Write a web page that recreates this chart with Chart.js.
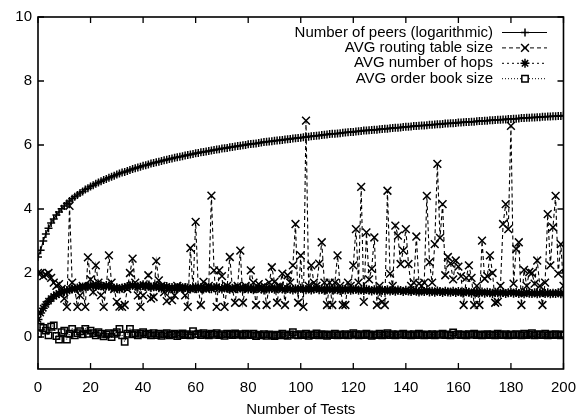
<!DOCTYPE html>
<html>
<head>
<meta charset="utf-8">
<script src="https://cdn.jsdelivr.net/npm/chart.js@4/dist/chart.umd.min.js"></script>
<style>
  html, body { margin: 0; padding: 0; background: #fff; }
</style>
</head>
<body>
<canvas id="chart" width="586" height="417"></canvas>
<script>
// Data (one value per test, 0..200)
const tests = Array.from({ length: 201 }, (_, i) => i);

const peers = [
  2.5, 2.71, 3.0, 3.22, 3.4, 3.56, 3.69, 3.81, 3.91, 4.01, 4.09, 4.17, 4.25, 4.32, 4.38, 4.44, 4.5, 4.55, 4.61, 4.65, 4.7,
  4.74, 4.79, 4.83, 4.87, 4.91, 4.94, 4.98, 5.01, 5.04, 5.08, 5.11, 5.14, 5.16, 5.19, 5.22, 5.25, 5.27, 5.3, 5.32, 5.35,
  5.37, 5.39, 5.42, 5.44, 5.46, 5.48, 5.5, 5.52, 5.54, 5.56, 5.58, 5.6, 5.62, 5.63, 5.65, 5.67, 5.69, 5.7, 5.72, 5.74,
  5.75, 5.77, 5.78, 5.8, 5.81, 5.83, 5.84, 5.86, 5.87, 5.89, 5.9, 5.91, 5.93, 5.94, 5.95, 5.97, 5.98, 5.99, 6.0, 6.02,
  6.03, 6.04, 6.05, 6.06, 6.08, 6.09, 6.1, 6.11, 6.12, 6.13, 6.14, 6.15, 6.16, 6.17, 6.18, 6.19, 6.2, 6.21, 6.22, 6.23,
  6.24, 6.25, 6.26, 6.27, 6.28, 6.29, 6.3, 6.31, 6.32, 6.33, 6.34, 6.35, 6.35, 6.36, 6.37, 6.38, 6.39, 6.4, 6.41, 6.41,
  6.42, 6.43, 6.44, 6.45, 6.45, 6.46, 6.47, 6.48, 6.48, 6.49, 6.5, 6.51, 6.51, 6.52, 6.53, 6.54, 6.54, 6.55, 6.56, 6.57,
  6.57, 6.58, 6.59, 6.59, 6.6, 6.61, 6.61, 6.62, 6.63, 6.63, 6.64, 6.65, 6.65, 6.66, 6.67, 6.67, 6.68, 6.68, 6.69, 6.7,
  6.7, 6.71, 6.72, 6.72, 6.73, 6.73, 6.74, 6.75, 6.75, 6.76, 6.76, 6.77, 6.77, 6.78, 6.79, 6.79, 6.8, 6.8, 6.81, 6.81,
  6.82, 6.82, 6.83, 6.84, 6.84, 6.85, 6.85, 6.86, 6.86, 6.87, 6.87, 6.88, 6.88, 6.89, 6.89, 6.9, 6.9, 6.91, 6.91, 6.92
];

const routing = [
  2.0, 2.0, 1.9, 1.95, 2.0, 1.85, 1.7, 1.6, 1.65, 1.5, 1.2, 0.94, 4.1, 1.7, 1.5, 0.94, 1.3, 1.6, 0.94, 2.49, 1.8,
  1.4, 2.24, 1.7, 1.3, 0.94, 1.6, 2.55, 1.7, 1.5, 1.1, 0.95, 0.94, 1.0, 1.5, 2.0, 2.45, 1.7, 1.3, 0.94, 1.3,
  1.6, 1.93, 1.2, 1.25, 2.37, 1.77, 1.6, 1.4, 1.12, 1.5, 1.15, 1.3, 1.6, 1.5, 1.55, 1.3, 0.94, 2.78, 1.5, 3.6,
  1.5, 1.0, 1.72, 1.5, 1.6, 4.42, 2.08, 0.94, 2.08, 1.9, 0.94, 1.6, 2.5, 1.5, 1.07, 1.6, 2.7, 1.07, 1.6, 1.5,
  2.08, 1.7, 1.0, 1.65, 1.55, 1.6, 1.0, 1.7, 2.18, 1.72, 1.07, 1.6, 1.98, 1.0, 1.93, 1.7, 2.24, 3.53, 1.07, 2.55,
  0.94, 6.76, 1.6, 2.24, 1.7, 1.6, 2.29, 2.96, 1.7, 1.0, 1.7, 1.0, 1.7, 2.55, 1.6, 1.0, 1.0, 1.7, 1.6, 2.24,
  3.37, 1.7, 4.69, 1.1, 3.27, 1.8, 2.13, 3.11, 1.0, 1.6, 1.1, 1.0, 4.57, 1.98, 1.6, 3.48, 3.17, 2.28, 2.7, 3.37,
  2.28, 1.6, 1.7, 3.14, 1.67, 1.6, 1.7, 4.41, 2.34, 1.7, 2.9, 5.41, 3.1, 4.15, 1.93, 2.5, 2.3, 1.8, 2.39, 2.2,
  1.9, 1.0, 1.85, 2.24, 1.85, 1.0, 1.6, 1.0, 3.01, 1.82, 1.9, 2.55, 2.0, 1.07, 1.1, 1.6, 3.53, 4.15, 3.37, 6.6,
  1.67, 2.75, 2.96, 1.0, 2.1, 1.6, 2.03, 2.0, 1.67, 2.39, 1.6, 1.0, 1.7, 3.84, 2.24, 3.43, 4.41, 1.98, 2.9, 1.6
];

const hops = [
  0.55, 0.75, 0.9, 1.02, 1.12, 1.2, 1.27, 1.32, 1.36, 1.4, 1.43, 1.45, 1.48, 1.5, 1.52, 1.53, 1.55, 1.56, 1.57, 1.58, 1.6,
  1.62, 1.58, 1.63, 1.6, 1.57, 1.61, 1.59, 1.55, 1.52, 1.54, 1.5, 1.53, 1.55, 1.58, 1.6, 1.62, 1.59, 1.56, 1.6, 1.63,
  1.58, 1.6, 1.55, 1.57, 1.6, 1.54, 1.52, 1.56, 1.58, 1.53, 1.55, 1.5, 1.54, 1.57, 1.52, 1.55, 1.53, 1.5, 1.54, 1.56,
  1.52, 1.55, 1.5, 1.53, 1.56, 1.51, 1.54, 1.57, 1.52, 1.5, 1.55, 1.53, 1.49, 1.52, 1.55, 1.51, 1.54, 1.5, 1.53, 1.5,
  1.52, 1.48, 1.51, 1.54, 1.5, 1.47, 1.52, 1.5, 1.53, 1.49, 1.51, 1.54, 1.5, 1.48, 1.52, 1.5, 1.47, 1.51, 1.49, 1.52,
  1.5, 1.48, 1.51, 1.47, 1.5, 1.52, 1.48, 1.5, 1.46, 1.49, 1.51, 1.47, 1.5, 1.48, 1.45, 1.49, 1.47, 1.5, 1.46, 1.48,
  1.5, 1.46, 1.48, 1.45, 1.49, 1.47, 1.44, 1.48, 1.46, 1.43, 1.47, 1.45, 1.48, 1.44, 1.46, 1.43, 1.47, 1.45, 1.42, 1.46,
  1.44, 1.42, 1.45, 1.43, 1.41, 1.44, 1.42, 1.45, 1.41, 1.43, 1.4, 1.44, 1.42, 1.39, 1.43, 1.41, 1.4, 1.43, 1.39, 1.42,
  1.4, 1.38, 1.42, 1.4, 1.37, 1.41, 1.39, 1.38, 1.41, 1.37, 1.4, 1.38, 1.36, 1.4, 1.38, 1.37, 1.39, 1.36, 1.38, 1.4,
  1.37, 1.39, 1.36, 1.38, 1.35, 1.39, 1.37, 1.36, 1.38, 1.35, 1.37, 1.39, 1.36, 1.38, 1.35, 1.37, 1.36, 1.38, 1.35, 1.37, 1.36
];

const orderBook = [
  0.1, 0.32, 0.28, 0.2, 0.05, 0.32, 0.36, 0.03, -0.08, 0.15, 0.2, -0.08, 0.1, 0.25, 0.05, 0.12, 0.18, 0.08, 0.25, 0.1, 0.2,
  0.12, 0.05, 0.15, 0.1, 0.02, 0.08, 0.12, 0.0, 0.1, 0.15, 0.25, 0.05, -0.15, 0.1, 0.25, 0.08, 0.12, 0.05, 0.1, 0.15,
  0.08, 0.1, 0.05, 0.12, 0.06, 0.1, 0.04, 0.09, 0.12, 0.05, 0.08, 0.1, 0.03, 0.07, 0.11, 0.06, 0.09, 0.05, 0.18, 0.08,
  0.1, 0.06, 0.12, 0.08, 0.05, 0.1, 0.07, 0.12, 0.06, 0.09, 0.04, 0.1, 0.08, 0.06, 0.11, 0.07, 0.09, 0.05, 0.1, 0.08,
  0.06, 0.1, 0.03, 0.07, 0.05, 0.09, 0.04, 0.08, 0.06, 0.03, 0.07, 0.05, 0.1, 0.06, 0.04, 0.08, 0.15, 0.07, 0.05, 0.09,
  0.06, 0.1, 0.04, 0.08, 0.06, 0.11, 0.05, 0.09, 0.07, 0.04, 0.08, 0.06, 0.1, 0.05, 0.08, 0.06, 0.09, 0.05, 0.07, 0.12,
  0.08, 0.05, 0.09, 0.06, 0.1, 0.07, 0.04, 0.08, 0.06, 0.1, 0.05, 0.08, 0.12, 0.06, 0.09, 0.05, 0.08, 0.07, 0.1, 0.06,
  0.08, 0.05, 0.09, 0.06, 0.1, 0.07, 0.05, 0.08, 0.06, 0.09, 0.05, 0.08, 0.07, 0.1, 0.06, 0.08, 0.05, 0.14, 0.07, 0.09,
  0.06, 0.08, 0.05, 0.09, 0.07, 0.1, 0.06, 0.08, 0.05, 0.07, 0.09, 0.06, 0.08, 0.05, 0.1, 0.07, 0.06, 0.09, 0.05, 0.08,
  0.06, 0.09, 0.07, 0.05, 0.1, 0.06, 0.08, 0.12, 0.05, 0.09, 0.07, 0.06, 0.1, 0.05, 0.08, 0.06, 0.09, 0.07, 0.05, 0.08, 0.06
];

const yTicks = [0, 2, 4, 6, 8, 10];
const seriesNames = [
  'Number of peers (logarithmic)',
  'AVG routing table size',
  'AVG number of hops',
  'AVG order book size'
];

const toPoints = arr => arr.map((v, i) => ({ x: tests[i], y: v }));

Chart.defaults.font.family = '"Liberation Sans", Arial, Helvetica, sans-serif';
Chart.defaults.font.size = 15;
Chart.defaults.color = '#000';

const INK = '#000';

// gnuplot style frame with inward ticks on all four sides
const framePlugin = {
  id: 'frame',
  afterDatasetsDraw(chart) {
    const { ctx, chartArea: a, scales } = chart;
    ctx.save();
    ctx.strokeStyle = INK;
    ctx.lineWidth = 1.6;
    ctx.strokeRect(a.left, a.top, a.right - a.left, a.bottom - a.top);
    ctx.lineWidth = 1.3;
    ctx.beginPath();
    const len = 6;
    scales.x.ticks.forEach(t => {
      const px = scales.x.getPixelForValue(t.value);
      ctx.moveTo(px, a.bottom); ctx.lineTo(px, a.bottom - len);
      ctx.moveTo(px, a.top); ctx.lineTo(px, a.top + len);
    });
    yTicks.forEach(v => {
      const py = scales.y.getPixelForValue(v);
      ctx.moveTo(a.left, py); ctx.lineTo(a.left + len, py);
      ctx.moveTo(a.right, py); ctx.lineTo(a.right - len, py);
    });
    ctx.stroke();
    ctx.restore();
  }
};

// key in the top right: text right aligned, then a line sample with its marker
const keyPlugin = {
  id: 'key',
  afterDraw(chart) {
    const { ctx } = chart;
    ctx.save();
    ctx.font = '15px "Liberation Sans", Arial, sans-serif';
    ctx.textAlign = 'right';
    ctx.textBaseline = 'middle';
    chart.data.datasets.forEach((ds, i) => {
      const y = 32.5 + i * 15.4;
      ctx.fillStyle = INK;
      ctx.fillText(ds.label, 493, y);
      ctx.strokeStyle = INK;
      ctx.lineWidth = 1;
      ctx.setLineDash(ds.borderDash || []);
      ctx.beginPath();
      ctx.moveTo(502, y); ctx.lineTo(547, y);
      ctx.stroke();
      ctx.setLineDash([]);
      ctx.fillStyle = ds.pointStyle === 'rect' ? '#fff' : INK;
      ctx.lineWidth = ds.pointBorderWidth;
      Chart.helpers.drawPoint(ctx, {
        pointStyle: ds.pointStyle,
        radius: ds.pointRadius,
        borderWidth: ds.pointBorderWidth
      }, 525, y);
    });
    ctx.restore();
  }
};

const common = {
  borderColor: INK,
  pointBorderColor: INK,
  borderWidth: 1.1,
  pointBorderWidth: 1.5,
  tension: 0,
  fill: false
};

new Chart(document.getElementById('chart'), {
  type: 'line',
  data: {
    datasets: [
      Object.assign({}, common, {
        label: seriesNames[0], data: toPoints(peers),
        pointStyle: 'cross', pointRadius: 4, pointBackgroundColor: INK
      }),
      Object.assign({}, common, {
        label: seriesNames[1], data: toPoints(routing),
        borderDash: [4, 3], pointStyle: 'crossRot', pointRadius: 5.5, pointBackgroundColor: INK
      }),
      Object.assign({}, common, {
        label: seriesNames[2], data: toPoints(hops),
        borderDash: [2, 3], pointStyle: 'star', pointRadius: 4.5, pointBackgroundColor: INK
      }),
      Object.assign({}, common, {
        label: seriesNames[3], data: toPoints(orderBook),
        borderDash: [1, 2], pointStyle: 'rect', pointRadius: 4.5, pointBackgroundColor: 'rgba(0,0,0,0)'
      })
    ]
  },
  options: {
    responsive: false,
    animation: false,
    events: [],
    layout: { padding: { top: 17, right: 22, left: 0, bottom: 0 } },
    plugins: { legend: { display: false }, tooltip: { enabled: false } },
    scales: {
      x: {
        type: 'linear', min: 0, max: 200,
        ticks: { stepSize: 20, padding: 10, color: INK, maxRotation: 0 },
        grid: { display: false, drawTicks: false },
        border: { display: false },
        title: { display: true, text: 'Number of Tests', color: INK, padding: { top: -1.5, bottom: -1.5 } },
        afterFit: s => { s.height = 48; }
      },
      y: {
        type: 'linear', min: -1, max: 10,
        afterBuildTicks: s => { s.ticks = yTicks.map(v => ({ value: v })); },
        ticks: { padding: 6, color: INK },
        grid: { display: false, drawTicks: false },
        border: { display: false },
        afterFit: s => { s.width = 38; }
      }
    }
  },
  plugins: [framePlugin, keyPlugin]
});
</script>
</body>
</html>
